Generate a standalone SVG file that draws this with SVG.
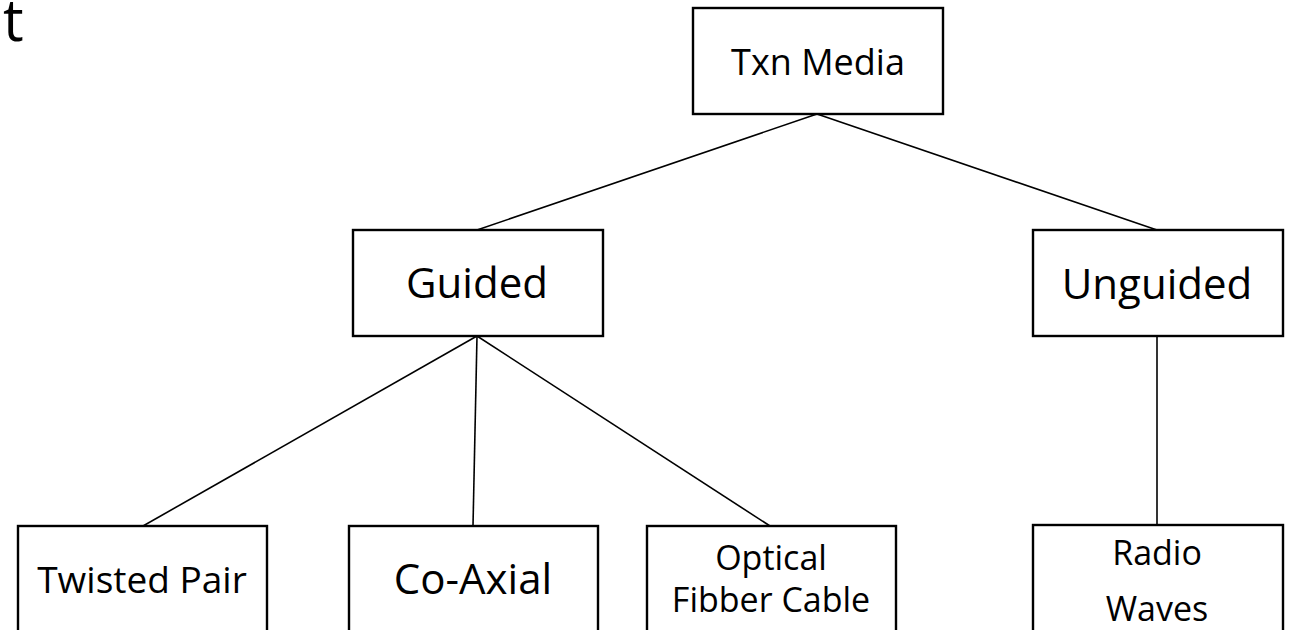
<svg xmlns="http://www.w3.org/2000/svg" width="1289" height="630" viewBox="0 0 1289 630">
<style>
.box{fill:#fff;stroke:#000;stroke-width:2.4}
.lbl{font-family:"Open Sans","Noto Sans",sans-serif;fill:#000;text-anchor:middle}
.edge{stroke:#000;stroke-width:1.6;fill:none}
</style>
<rect width="1289" height="630" fill="#fff"/>
<text x="3" y="41" font-family="Open Sans, Noto Sans, sans-serif" font-size="58" fill="#000">t</text>
<g id="connectors">
<line class="edge" x1="817" y1="114" x2="477" y2="230"/>
<line class="edge" x1="817" y1="114" x2="1157" y2="230"/>
<line class="edge" x1="477" y1="336" x2="143" y2="526"/>
<line class="edge" x1="477" y1="336" x2="473" y2="526"/>
<line class="edge" x1="477" y1="336" x2="770" y2="526"/>
<line class="edge" x1="1157" y1="336" x2="1157" y2="525"/>
</g>
<g id="txn-media">
<rect class="box" x="693" y="8" width="250" height="106"/>
<text class="lbl" x="818" y="75" font-size="36">Txn Media</text>
</g>
<g id="guided">
<rect class="box" x="353" y="230" width="250" height="106"/>
<text class="lbl" x="477" y="298" font-size="42">Guided</text>
</g>
<g id="unguided">
<rect class="box" x="1033" y="230" width="250" height="106"/>
<text class="lbl" x="1157" y="299" font-size="42">Unguided</text>
</g>
<g id="twisted-pair">
<rect class="box" x="18" y="526" width="249" height="120"/>
<text class="lbl" x="142" y="593" font-size="37">Twisted Pair</text>
</g>
<g id="co-axial">
<rect class="box" x="349" y="526" width="249" height="120"/>
<text class="lbl" x="473" y="594" font-size="42">Co-Axial</text>
</g>
<g id="optical-fibber-cable">
<rect class="box" x="647" y="526" width="249" height="120"/>
<text class="lbl" x="771" y="570" font-size="34">Optical</text>
<text class="lbl" x="771" y="612" font-size="34">Fibber Cable</text>
</g>
<g id="radio-waves">
<rect class="box" x="1033" y="525" width="250" height="120"/>
<text class="lbl" x="1157" y="565" font-size="34">Radio</text>
<text class="lbl" x="1157" y="621" font-size="34">Waves</text>
</g>
</svg>
